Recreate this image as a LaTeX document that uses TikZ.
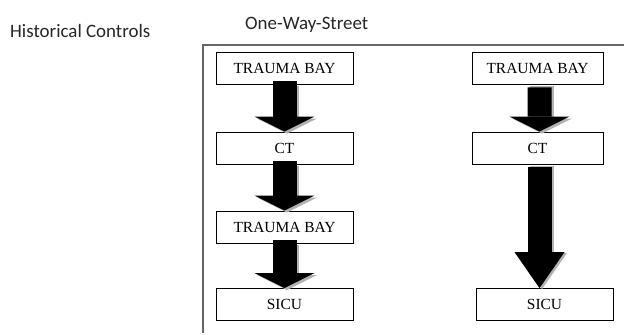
\documentclass[tikz,border=0pt]{standalone}
\usepackage{fontspec}
\usepackage{tikz}
\usetikzlibrary{arrows.meta, calc, positioning}
\newfontfamily\labelfont{Carlito}
\newfontfamily\boxfont{Liberation Serif}

\begin{document}
\begin{tikzpicture}[x=1bp,y=-1bp,
    place/.style={draw=black,line width=0.8bp,fill=white,minimum height=32bp,
                  inner sep=0pt,font=\boxfont\fontsize{15.5}{17}\selectfont},
    caption/.style={font=\labelfont\fontsize{19}{21}\selectfont,text=black!85,inner sep=0pt},
    flow/.style={line width=24bp,black,
                 -{Triangle[width=60bp,length=15bp,line width=0pt]}},
    flowshade/.style={flow,black!30},
    longflow/.style={line width=24bp,black,
                 -{Triangle[width=50bp,length=36bp,line width=0pt]}},
    longshade/.style={longflow,black!30}]
  \useasboundingbox (0,0) rectangle (624,334);
  % titles
  \node[caption,anchor=base west] (hist) at (10,37) {Historical Controls};
  \node[caption,anchor=base west] (oneway) at (245,29) {One-Way-Street};
  % frame
  \draw[black!60,line width=1.2bp] (624,45) -- (203,45) -- (203,333);
  % left column
  \node[place,minimum width=137bp] (bay) at (284.5,68) {TRAUMA BAY};
  \node[place,minimum width=137bp] (ct) at (284.5,148) {CT};
  \node[place,minimum width=137bp] (bayback) at (284.5,227) {TRAUMA BAY};
  \node[place,minimum width=137bp] (sicu) at (284.5,304.5) {SICU};
  % right column
  \node[place,minimum width=131bp] (bayR) at (537.5,68) {TRAUMA BAY};
  \node[place,minimum width=131bp] (ctR) at (537.5,148) {CT};
  \node[place,minimum width=137bp] (sicuR) at (544.5,304.5) {SICU};
  % arrows, left
  \foreach \a/\b in {bay/ct, ct/bayback, bayback/sicu} {
    \draw[flowshade] ([shift={(2.5,2)}]\a.south) -- ([shift={(2.5,2)}]\b.north);
    \draw[flow] ([yshift=3]\a.south) -- (\b.north);
  }
  % arrows, right
  \draw[flowshade] ([shift={(4.5,2)}]bayR.south) -- ([shift={(4.5,2)}]ctR.north);
  \draw[flow] ([shift={(2,3)}]bayR.south) -- ([xshift=2]ctR.north);
  \draw[longshade] ([shift={(4.5,2)}]ctR.south) -- ($(ctR.south |- sicuR.north)+(4.5,1)$);
  \draw[longflow] ([shift={(2,3)}]ctR.south) -- ($(ctR.south |- sicuR.north)+(2,0)$);
\end{tikzpicture}
\end{document}
